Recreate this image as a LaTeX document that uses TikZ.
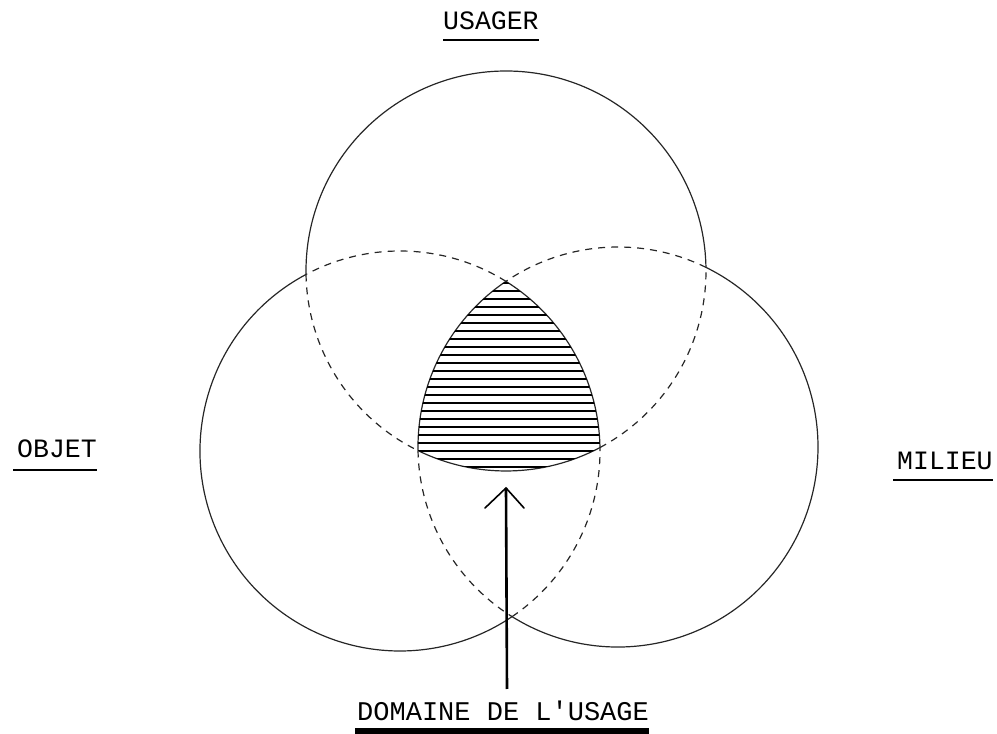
\documentclass[tikz,border=0pt]{standalone}
\usepackage{fontspec}
\setmonofont{Liberation Mono}
\begin{document}
\begin{tikzpicture}[x=1pt,y=1pt,
  ring/.style={line width=1.2pt, black!85},
  ringdash/.style={ring, dash pattern=on 7pt off 6pt},
  lbl/.style={font=\fontsize{26.5}{30}\selectfont\ttfamily, inner sep=0pt, anchor=base west},
  uline/.style={line width=1.6pt},
  hatch/.style={line width=1.8pt},
  shaft/.style={line width=2.6pt},
  barb/.style={line width=1.6pt, line cap=round}]
\useasboundingbox (0,0) rectangle (997,734);
\coordinate (T) at (506,463);
\coordinate (L) at (400,283);
\coordinate (R) at (618,287);
% top circle (USAGER)
\draw[ring] ([shift={(1.03:200)}]T) arc[start angle=1.03,end angle=181,radius=200];
\draw[ringdash] ([shift={(181:200)}]T) arc[start angle=181,end angle=243.9,radius=200];
\draw[ring] ([shift={(243.9:200)}]T) arc[start angle=243.9,end angle=298,radius=200];
\draw[ringdash] ([shift={(298:200)}]T) arc[start angle=298,end angle=361.03,radius=200];
% left circle (OBJET)
\draw[ring] ([shift={(118:200)}]L) arc[start angle=118,end angle=304.1,radius=200];
\draw[ringdash] ([shift={(304.1:200)}]L) arc[start angle=304.1,end angle=360.97,radius=200];
\draw[ring] ([shift={(0.97:200)}]L) arc[start angle=0.97,end angle=58.04,radius=200];
\draw[ringdash] ([shift={(58.04:200)}]L) arc[start angle=58.04,end angle=118,radius=200];
% right circle (MILIEU)
\draw[ring] ([shift={(238:200)}]R) arc[start angle=238,end angle=423.9,radius=200];
\draw[ringdash] ([shift={(63.9:200)}]R) arc[start angle=63.9,end angle=124.1,radius=200];
\draw[ring] ([shift={(124.1:200)}]R) arc[start angle=124.1,end angle=181,radius=200];
\draw[ringdash] ([shift={(181:200)}]R) arc[start angle=181,end angle=238,radius=200];
% hatched common region
\begin{scope}
\clip ([shift={(243.9:200)}]T) arc[start angle=243.9,end angle=298,radius=200]
  arc[start angle=0.97,end angle=58.04,radius=200]
  arc[start angle=124.1,end angle=181,radius=200] -- cycle;
\foreach \yy in {267,275,...,451} \draw[hatch] (400,\yy) -- (620,\yy);
\end{scope}
% labels
\node[lbl] (usager) at (443,704) {USAGER};
\draw[uline] ([yshift=-10pt]usager.base west) -- ([yshift=-10pt]usager.base east);
\node[lbl] (objet) at (17,276) {OBJET};
\draw[uline] ([yshift=-12pt,xshift=-4pt]objet.base west) -- ([yshift=-12pt]objet.base east);
\node[lbl] (milieu) at (897,264) {MILIEU};
\draw[uline] ([yshift=-10pt,xshift=-4pt]milieu.base west) -- ([yshift=-10pt]milieu.base east);
\node[lbl, font=\fontsize{27}{30}\selectfont\ttfamily] (dom) at (357,13) {DOMAINE DE L'USAGE};
\fill ([yshift=-7pt,xshift=-2pt]dom.base west) rectangle ([yshift=-14pt]dom.base east);
% arrow
\coordinate (foot) at (507,45);
\coordinate (tip) at (506,246);
\draw[shaft] (foot) -- (tip);
\draw[barb] ([shift={(-21,-20)}]tip) -- (tip) -- ([shift={(18,-20)}]tip);
\end{tikzpicture}
\end{document}
